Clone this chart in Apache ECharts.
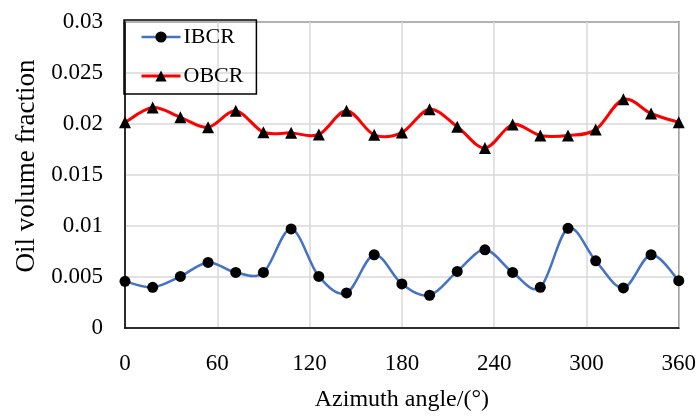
<!DOCTYPE html>
<html>
<head>
<meta charset="utf-8">
<script src="https://cdn.jsdelivr.net/npm/echarts@6/dist/echarts.min.js"></script>
<style>html,body{margin:0;padding:0;background:#fff}#c{width:699px;height:417px}</style>
</head>
<body>
<div id="c"></div>
<script>
const angles = [0,18,36,54,72,90,108,126,144,162,180,198,216,234,252,270,288,306,324,342,360];
const ibcr = [0.00458,0.00399,0.00506,0.00643,0.00545,0.00545,0.00971,0.00506,0.00344,0.00718,0.00432,0.00321,0.00555,0.00766,0.00545,0.00399,0.00977,0.00659,0.00393,0.00718,0.00464];
const obcr = [0.02016,0.02161,0.02065,0.01968,0.02129,0.01919,0.01913,0.01897,0.02129,0.01894,0.01916,0.02145,0.01974,0.01765,0.01994,0.01887,0.01887,0.01945,0.02242,0.02103,0.02016];
const xTicks = [0,60,120,180,240,300,360];
const yTicks = [0,0.005,0.01,0.015,0.02,0.025,0.03];

const font = 'Liberation Serif';
const IB_COLOR = '#4472C4', OB_COLOR = '#ff0000';

function smoothCurve(vals, color, width) {
  const n = vals.length;
  return function (params, api) {
    const i = params.dataIndex;
    if (i >= n - 1) return null;
    const cl = j => Math.max(0, Math.min(n - 1, j));
    const p = j => api.coord([angles[cl(j)], vals[cl(j)]]);
    const p0 = p(i - 1), p1 = p(i), p2 = p(i + 1), p3 = p(i + 2);
    const t = 1 / 6;
    return {
      type: 'bezierCurve',
      shape: {
        x1: p1[0], y1: p1[1], x2: p2[0], y2: p2[1],
        cpx1: p1[0] + (p2[0] - p0[0]) * t, cpy1: p1[1] + (p2[1] - p0[1]) * t,
        cpx2: p2[0] - (p3[0] - p1[0]) * t, cpy2: p2[1] - (p3[1] - p1[1]) * t
      },
      style: {stroke: color, lineWidth: width, fill: null, lineCap: 'round'}
    };
  };
}

const chart = echarts.init(document.getElementById('c'));
chart.setOption({
  animation: false,
  backgroundColor: '#fff',
  grid: {left: 125, right: 19, top: 22, bottom: 85.5, show: true, borderColor: '#000', borderWidth: 1.5, backgroundColor: 'transparent'},
  legend: {
    left: 124, top: 20, orient: 'vertical',
    borderColor: '#000', borderWidth: 1.5,
    padding: [6, 13, 7, 16],
    itemWidth: 39, itemHeight: 14, itemGap: 17,
    textStyle: {fontFamily: font, fontSize: 22, color: '#000', lineHeight: 22, padding: [0, 0, 0, -2]},
    data: [
      {name: 'IBCR', lineStyle: {color: IB_COLOR, width: 2.5, opacity: 1}, itemStyle: {color: '#000'}},
      {name: 'OBCR', lineStyle: {color: OB_COLOR, width: 3, opacity: 1}, itemStyle: {color: '#000'}}
    ]
  },
  xAxis: {
    type: 'value', min: xTicks[0], max: xTicks[xTicks.length-1], interval: 60,
    name: 'Azimuth angle/(°)', nameLocation: 'middle', nameGap: 60,
    nameTextStyle: {fontFamily: font, fontSize: 24, color: '#000'},
    axisLine: {show: true, lineStyle: {color: '#000', width: 1.5}},
    axisTick: {show: false},
    axisLabel: {fontFamily: font, fontSize: 23, color: '#000', margin: 24},
    splitLine: {show: true, lineStyle: {color: '#d9d9d9', width: 1.5}}
  },
  yAxis: {
    type: 'value', min: yTicks[0], max: yTicks[yTicks.length-1], interval: 0.005,
    name: 'Oil volume fraction', nameLocation: 'middle', nameGap: 84, nameRotate: 90,
    nameTextStyle: {fontFamily: font, fontSize: 27, color: '#000', padding: [0, 0, 0, 18]},
    axisLine: {show: true, lineStyle: {color: '#000', width: 1.5}},
    axisTick: {show: false},
    axisLabel: {fontFamily: font, fontSize: 23, color: '#000', margin: 22},
    splitLine: {show: true, lineStyle: {color: '#d9d9d9', width: 1.5}}
  },
  series: [
    {
      name: 'IBCR', type: 'line', z: 4,
      data: angles.map((a, i) => [a, ibcr[i]]),
      symbol: 'circle', symbolSize: 11,
      lineStyle: {color: IB_COLOR, width: 2.5, opacity: 0},
      itemStyle: {color: '#000'},
      color: IB_COLOR
    },
    {
      name: 'OBCR', type: 'line', z: 4,
      data: angles.map((a, i) => [a, obcr[i]]),
      symbol: 'triangle', symbolSize: 12,
      lineStyle: {color: OB_COLOR, width: 3, opacity: 0},
      itemStyle: {color: '#000'},
      color: OB_COLOR
    },
    {
      name: 'IBCR', type: 'custom', z: 3, silent: true,
      data: angles.map((a, i) => [a, ibcr[i]]),
      encode: {x: 0, y: 1},
      renderItem: smoothCurve(ibcr, IB_COLOR, 2.5)
    },
    {
      name: 'OBCR', type: 'custom', z: 3, silent: true,
      data: angles.map((a, i) => [a, obcr[i]]),
      encode: {x: 0, y: 1},
      renderItem: smoothCurve(obcr, OB_COLOR, 3)
    }
  ]
});
</script>
</body>
</html>
